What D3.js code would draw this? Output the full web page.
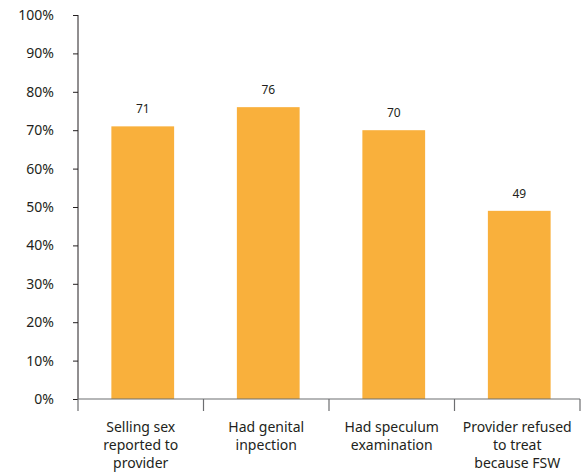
<!DOCTYPE html>
<html><head><meta charset="utf-8">
<script src="https://cdn.jsdelivr.net/npm/d3@7"></script>
<style>body{margin:0;background:#fff}svg{display:block}</style>
</head><body>
<script>
const categories = [["Selling sex","reported to","provider"],["Had genital","inpection"],["Had speculum","examination"],["Provider refused","to treat","because FSW"]];
const values = [71, 76, 70, 49];
const yTicks = [0,10,20,30,40,50,60,70,80,90,100];

const W = 581, H = 472;
const svg = d3.select("body").append("svg").attr("width", W).attr("height", H);
const x = d3.scaleBand().domain(d3.range(categories.length)).range([80, 582]).paddingInner(0.5).paddingOuter(0.25);
const y = d3.scaleLinear().domain([0, 100]).range([399, 15]);
const font = "'Noto Sans', 'Open Sans', sans-serif";
const txt = "#231f20";

// y axis
const ya = svg.append("g").attr("transform","translate(78,0)")
  .call(d3.axisLeft(y).tickValues(yTicks).tickSize(5).tickFormat(d => d + "%"));
ya.select(".domain").attr("stroke", txt).attr("d", "M-0,15V399");
ya.selectAll(".tick line").attr("stroke", txt);
ya.selectAll(".tick text").attr("x", -24).attr("fill", txt).style("font-family", font).style("font-size", "14px");

// bars
svg.selectAll("rect.bar").data(values).enter().append("rect")
  .attr("x", (d,i) => x(i)).attr("width", x.bandwidth())
  .attr("y", d => y(d)).attr("height", d => y(0) - y(d))
  .attr("fill", "#f9b03c");

svg.selectAll("text.val").data(values).enter().append("text")
  .attr("x", (d,i) => x(i) + x.bandwidth()/2).attr("y", d => y(d) - 13)
  .attr("text-anchor","middle").attr("fill", txt)
  .style("font-family", font).style("font-size","12px").text(d => d);

// x axis
const step = (580 - 78) / categories.length;
svg.append("line").attr("x1",78).attr("x2",580).attr("y1",399).attr("y2",399).attr("stroke","#6d6e71").attr("stroke-width",1.2);
d3.range(categories.length + 1).forEach(i => {
  svg.append("line").attr("x1",78 + i*step).attr("x2",78 + i*step).attr("y1",399).attr("y2",411).attr("stroke","#6d6e71").attr("stroke-width",1.2);
});
categories.forEach((lines, i) => {
  const t = svg.append("text").attr("text-anchor","middle").attr("fill", txt)
    .style("font-family", font).style("font-size","14px");
  lines.forEach((l, j) => {
    t.append("tspan").attr("x", 78 + (i+0.5)*step).attr("y", 432 + j*18).text(l);
  });
});
</script>
</body></html>
